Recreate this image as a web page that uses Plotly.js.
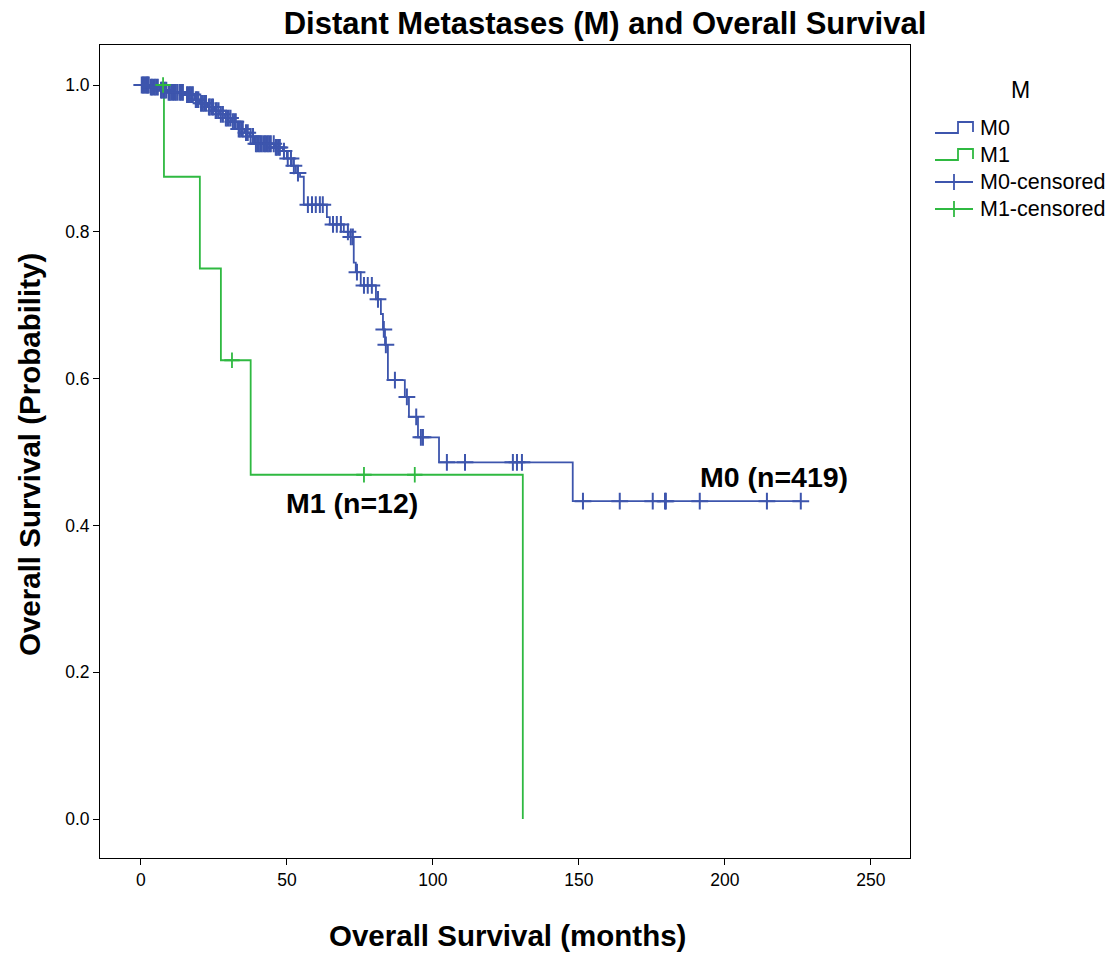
<!DOCTYPE html>
<html>
<head>
<meta charset="utf-8">
<script src="https://cdn.plot.ly/plotly-3.0.1.min.js"></script>
<style>html,body{margin:0;padding:0;background:#fff;}#chart{width:1114px;height:954px;}</style>
</head>
<body>
<div id="chart"></div>
<script>
// ---- Data ----
// M0 (n=419): Kaplan-Meier step times (months) and survival after each step
const m0Times = [0, 3.1, 6.5, 9.2, 15.1, 18.5, 20.2, 22.9, 25.3, 27.1, 28.8, 31.2, 33.2, 35.6, 37.3, 39.0, 45.9, 48.6, 50.0, 51.7, 53.1, 54.5, 55.8, 63.7, 64.7, 69.5, 71.2, 72.9, 73.6, 75.3, 80.5, 82.2, 82.9, 83.6, 84.6, 90.4, 91.8, 94.9, 102.1, 147.9, 226.0];
const m0Surv  = [1.0, 0.997, 0.993, 0.99, 0.987, 0.98, 0.975, 0.97, 0.965, 0.96, 0.955, 0.95, 0.94, 0.935, 0.93, 0.92, 0.915, 0.91, 0.90, 0.89, 0.88, 0.875, 0.837, 0.82, 0.81, 0.80, 0.793, 0.758, 0.745, 0.727, 0.708, 0.688, 0.667, 0.646, 0.598, 0.575, 0.548, 0.520, 0.486, 0.433, 0.433];
// M0 censored times (months)
const m0Censored = [0.3, 0.7, 1.0, 1.4, 1.8, 2.1, 2.4, 2.7, 3.4, 3.8, 4.3, 4.8, 5.3, 5.8, 6.9, 7.2, 7.7, 8.2, 8.7, 9.5, 9.9, 10.4, 11.0, 11.5, 12.0, 12.6, 13.4, 13.9, 14.4, 15.8, 16.3, 16.8, 17.3, 17.8, 18.8, 19.2, 19.7, 20.6, 21.2, 21.7, 22.3, 23.3, 23.6, 24.2, 24.7, 25.6, 26.0, 26.6, 27.4, 28.1, 29.1, 29.6, 30.1, 30.7, 31.5, 32.0, 32.5, 33.5, 33.9, 34.4, 34.9, 36.0, 36.6, 37.6, 38.4, 39.4, 39.9, 40.4, 40.9, 41.4, 42.0, 42.5, 43.0, 43.5, 44.0, 44.5, 45.5, 46.2, 46.6, 47.2, 47.6, 49.0, 50.3, 51.4, 52.4, 53.8, 57.2, 58.6, 59.9, 61.3, 62.3, 65.8, 67.1, 68.5, 70.9, 71.9, 72.6, 74.0, 76.4, 77.7, 79.1, 81.2, 83.2, 83.9, 87.0, 91.1, 94.3, 95.9, 96.6, 104.8, 111.0, 127.4, 128.8, 130.5, 151.4, 164.0, 175.3, 179.5, 179.8, 191.4, 214.4, 226.0];

// M1 (n=12)
const m1Times = [0, 7.9, 20.2, 27.4, 37.6, 130.8];
const m1Surv  = [1.0, 0.875, 0.75, 0.625, 0.469, 0.0];
const m1Censored = [7.6, 31.2, 76.4, 93.8];

const groupNames = ['M0', 'M1'];
const groupLabels = ['M0 (n=419)', 'M1 (n=12)'];
const xTicks = [0, 50, 100, 150, 200, 250];
const yTicks = [0.0, 0.2, 0.4, 0.6, 0.8, 1.0];

// ---- Helpers ----
function survAt(times, surv, t) {
  let s = surv[0];
  for (let i = 0; i < times.length; i++) { if (times[i] <= t) s = surv[i]; else break; }
  return s;
}
const BLUE = '#3d55ad';
const GREEN = '#2fb941';
const FONT = 'Liberation Sans, Arial, sans-serif';

const traces = [
  {x: m1Times, y: m1Surv, type: 'scatter', mode: 'lines', line: {shape: 'hv', color: GREEN, width: 1.8}, name: groupNames[1]},
  {x: m0Times, y: m0Surv, type: 'scatter', mode: 'lines', line: {shape: 'hv', color: BLUE, width: 1.8}, name: groupNames[0]},
  {x: m0Censored, y: m0Censored.map(t => survAt(m0Times, m0Surv, t)), type: 'scatter', mode: 'markers',
   marker: {symbol: 'cross-thin-open', size: 12, color: BLUE, line: {color: BLUE, width: 2}}, name: groupNames[0] + '-censored'},
  {x: m1Censored, y: m1Censored.map(t => survAt(m1Times, m1Surv, t)), type: 'scatter', mode: 'markers',
   marker: {symbol: 'cross-thin-open', size: 11, color: GREEN, line: {color: GREEN, width: 1.8}}, name: groupNames[1] + '-censored'}
];

// plot area in pixels: left 100, right 910, top 45, bottom 858
const L = 100, R = 910, T = 45, B = 858;
const px = x => (x - L) / (R - L);
const py = y => (B - y) / (B - T);

const shapes = [];
const annotations = [];
// custom legend
const legendRows = [
  {label: 'M0', color: BLUE, kind: 'step', y: 128},
  {label: 'M1', color: GREEN, kind: 'step', y: 155},
  {label: 'M0-censored', color: BLUE, kind: 'cross', y: 182},
  {label: 'M1-censored', color: GREEN, kind: 'cross', y: 209}
];
legendRows.forEach(r => {
  if (r.kind === 'step') {
    shapes.push({type: 'path', xref: 'paper', yref: 'paper',
      path: `M ${px(935)} ${py(r.y + 5)} L ${px(958)} ${py(r.y + 5)} L ${px(958)} ${py(r.y - 6)} L ${px(973)} ${py(r.y - 6)} L ${px(973)} ${py(r.y + 4)}`,
      line: {color: r.color, width: 1.8}});
  } else {
    shapes.push({type: 'line', xref: 'paper', yref: 'paper', x0: px(935), x1: px(973), y0: py(r.y), y1: py(r.y), line: {color: r.color, width: 1.8}});
    shapes.push({type: 'line', xref: 'paper', yref: 'paper', x0: px(954), x1: px(954), y0: py(r.y - 8), y1: py(r.y + 8), line: {color: r.color, width: 1.8}});
  }
  annotations.push({text: r.label, xref: 'paper', yref: 'paper', x: px(978), y: py(r.y), xanchor: 'left', yanchor: 'middle',
    showarrow: false, font: {family: FONT, size: 21.5, color: '#000'}});
});
annotations.push({text: 'M', xref: 'paper', yref: 'paper', x: px(1020), y: py(90), xanchor: 'center', yanchor: 'middle',
  showarrow: false, font: {family: FONT, size: 23, color: '#000'}});
// group labels on the plot
annotations.push({text: '<b>' + groupLabels[0] + '</b>', x: 216.8, y: 0.466, xref: 'x', yref: 'y', showarrow: false,
  font: {family: FONT, size: 28.5, color: '#000'}});
annotations.push({text: '<b>' + groupLabels[1] + '</b>', x: 72.3, y: 0.4305, xref: 'x', yref: 'y', showarrow: false,
  font: {family: FONT, size: 28.5, color: '#000'}});
// axis titles
annotations.push({text: '<b>Overall Survival (months)</b>', xref: 'paper', yref: 'paper', x: px(507), y: py(935),
  xanchor: 'center', yanchor: 'middle', showarrow: false, font: {family: FONT, size: 29.5, color: '#000'}});
annotations.push({text: '<b>Overall Survival (Probability)</b>', xref: 'paper', yref: 'paper', x: px(29), y: py(455),
  xanchor: 'center', yanchor: 'middle', textangle: -90, showarrow: false, font: {family: FONT, size: 29.5, color: '#000'}});

const layout = {
  width: 1114, height: 954,
  margin: {l: L, r: 1114 - R, t: T, b: 954 - B},
  paper_bgcolor: '#fff', plot_bgcolor: '#fff',
  showlegend: false,
  title: {text: '<b>Distant Metastases (M) and Overall Survival</b>', x: 605 / 1114, xref: 'container', xanchor: 'center',
    y: 1 - 23 / 954, yref: 'container', yanchor: 'middle', font: {family: FONT, size: 31, color: '#000'}},
  xaxis: {range: [-14.0, 263.4], tickvals: xTicks, ticktext: xTicks.map(String), ticks: 'outside', ticklen: 6, tickcolor: '#000',
    showline: true, linecolor: '#000', linewidth: 1, mirror: true, showgrid: false, zeroline: false,
    tickfont: {family: FONT, size: 17.5, color: '#000'}},
  yaxis: {range: [-0.0531, 1.0545], tickvals: yTicks, ticktext: yTicks.map(v => v.toFixed(1)), ticks: 'outside', ticklen: 6, tickcolor: '#000',
    showline: true, linecolor: '#000', linewidth: 1, mirror: true, showgrid: false, zeroline: false,
    tickfont: {family: FONT, size: 17.5, color: '#000'}},
  shapes: shapes,
  annotations: annotations
};

Plotly.newPlot('chart', traces, layout, {displayModeBar: false, staticPlot: true});
</script>
</body>
</html>
